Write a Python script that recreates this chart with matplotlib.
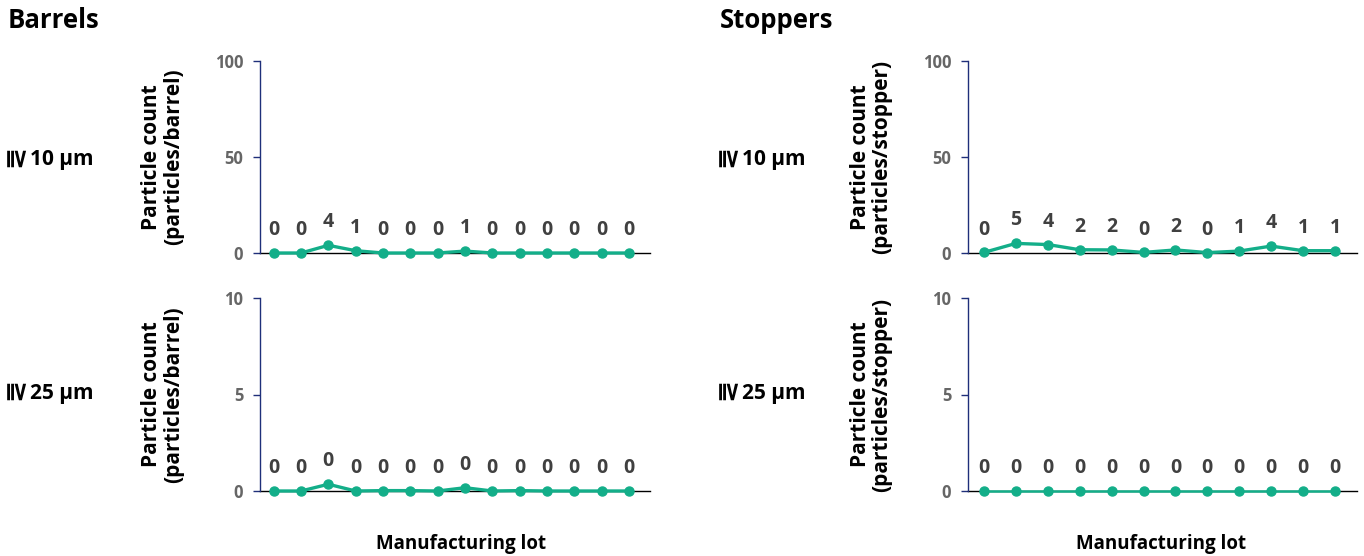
import numpy as np
import matplotlib.pyplot as plt

plt.rcParams['font.family'] = ['Open Sans', 'DejaVu Sans']
plt.rcParams['font.weight'] = 'bold'

# data (labels are the values rounded)
barrel_lots = np.arange(14)
barrel_10um = [0, 0, 4.0, 1.2, 0, 0, 0, 1.0, 0, 0, 0, 0, 0, 0]
barrel_25um = [0, 0, 0.35, 0, 0.02, 0.02, 0, 0.17, 0, 0.02, 0, 0, 0, 0]

stopper_lots = np.arange(12)
stopper_10um = [0.3, 5.0, 4.4, 1.7, 1.6, 0.3, 1.6, 0.2, 1.0, 3.6, 1.2, 1.2]
stopper_25um = [0, 0, 0, 0, 0, 0, 0, 0, 0, 0, 0, 0]

green = '#13AE89'
navy = '#1F2F7A'
tick_grey = '#666666'
label_grey = '#404040'

fig = plt.figure(figsize=(13.64, 5.56), dpi=100)
W, H = 1364, 556


def make_ax(x0, x1, ytop, ybot):
    return fig.add_axes([x0 / W, 1 - ybot / H, (x1 - x0) / W, (ybot - ytop) / H])


def draw(ax, lots, vals, ymax, ylabel, right_pad, lw=2.4):
    ax.plot(lots, vals, color=green, lw=lw, marker='o', ms=6.5, zorder=3, clip_on=False)
    for x, v in zip(lots, vals):
        ax.annotate('%.0f' % v, (x, v), xytext=(0, 16.5), textcoords='offset points',
                    ha='center', va='center', fontsize=14, color=label_grey,
                    fontweight='bold')
    ax.set_xlim(-0.5, lots[-1] + right_pad)
    ax.set_ylim(0, ymax)
    ax.set_yticks([0, ymax / 2, ymax])
    ax.set_yticklabels(['%d' % t for t in [0, ymax / 2, ymax]])
    ax.set_xticks([])
    for s in ['top', 'right']:
        ax.spines[s].set_visible(False)
    ax.spines['left'].set_color(navy)
    ax.spines['left'].set_linewidth(1.0)
    ax.spines['bottom'].set_color('black')
    ax.spines['bottom'].set_linewidth(1.0)
    ax.spines['bottom'].set_zorder(2)
    ax.tick_params(axis='y', direction='out', length=5, width=1, color=navy,
                   labelsize=12, labelcolor=tick_grey, pad=7)
    for t in ax.get_yticklabels():
        t.set_fontweight('bold')
    ax.set_ylabel(ylabel, fontsize=15, fontweight='bold', color='black',
                  linespacing=1.05, va='center', ha='center')
    ax.yaxis.set_label_coords(-0.249, 0.5)
    ax.set_facecolor('none')


ax1 = make_ax(260, 650, 61, 253)
draw(ax1, barrel_lots, barrel_10um, 100, 'Particle count\n(particles/barrel)', 0.77)
ax2 = make_ax(260, 650, 298, 491)
draw(ax2, barrel_lots, barrel_25um, 10, 'Particle count\n(particles/barrel)', 0.77)
ax3 = make_ax(968, 1357, 61, 253)
draw(ax3, stopper_lots, stopper_10um, 100, 'Particle count\n(particles/stopper)', 0.69)
ax4 = make_ax(968, 1357, 298, 491)
draw(ax4, stopper_lots, stopper_25um, 10, 'Particle count\n(particles/stopper)', 0.69, lw=1.8)

# section titles
fig.text(8 / W, 1 - 20 / H, 'Barrels', fontsize=18.5, fontweight='bold', va='center', ha='left')
fig.text(720 / W, 1 - 20 / H, 'Stoppers', fontsize=18.5, fontweight='bold', va='center', ha='left')

# size class row labels (the ≧ sign appears turned a quarter clockwise)
for x0 in (8, 720):
    for yc, txt in ((160, '10 µm'), (393, '25 µm')):
        fig.text((x0 + 6) / W, 1 - yc / H, '≧', fontsize=19, fontweight='bold',
                 rotation=-90, ha='center', va='center', family=['DejaVu Sans'])
        fig.text((x0 + 22) / W, 1 - yc / H, txt, fontsize=15, fontweight='bold',
                 ha='left', va='center')

# x axis titles
fig.text(461 / W, 1 - 544 / H, 'Manufacturing lot', fontsize=13.5, fontweight='bold',
         ha='center', va='center')
fig.text(1161 / W, 1 - 544 / H, 'Manufacturing lot', fontsize=13.5, fontweight='bold',
         ha='center', va='center')

fig.savefig('out.png', dpi=100)
